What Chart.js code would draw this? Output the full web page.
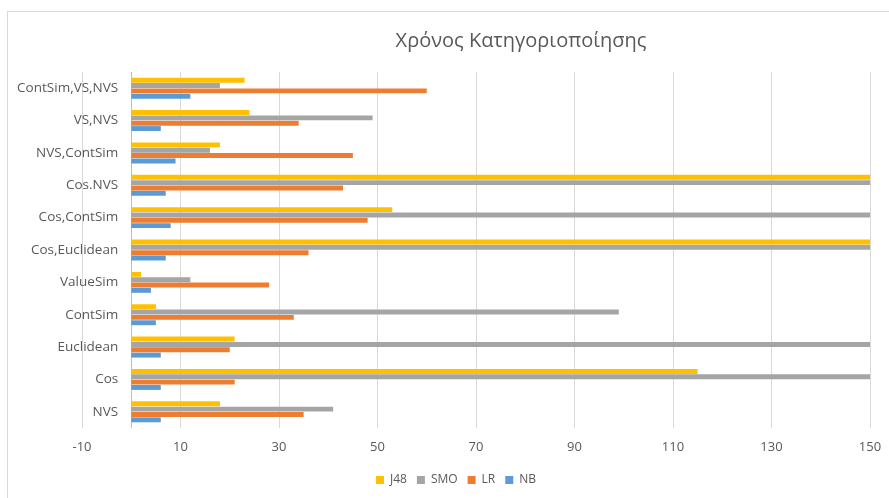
<!DOCTYPE html>
<html>
<head>
<meta charset="utf-8">
<script src="https://cdn.jsdelivr.net/npm/chart.js@4"></script>
<style>
  html, body { margin: 0; padding: 0; background: #fff; }
  #wrap { width: 889px; height: 498px; }
</style>
</head>
<body>
<div id="wrap"><canvas id="myChart" width="889" height="498"></canvas></div>
<script>
// categories listed top to bottom
const labels = ["ContSim,VS,NVS", "VS,NVS", "NVS,ContSim", "Cos.NVS", "Cos,ContSim",
  "Cos,Euclidean", "ValueSim", "ContSim", "Euclidean", "Cos", "NVS"];
const j48 = [23, 24, 18, 150, 53, 150, 2, 5, 21, 115, 18];
const smo = [18, 49, 16, 150, 150, 150, 12, 99, 150, 150, 41];
const lr = [60, 34, 45, 43, 48, 36, 28, 33, 20, 21, 35];
const nb = [12, 6, 9, 7, 8, 7, 4, 5, 6, 6, 6];
const titleText = "Χρόνος Κατηγοριοποίησης";

const grey = "#595959";
const font = "'Open Sans', 'Noto Sans', sans-serif";

// frame, title, zero line, legend nudge
const decor = {
  id: "decor",
  afterLayout(chart) {
    chart.legend.left -= 20;
    chart.legend.right -= 20;
  },
  beforeDraw(chart) {
    const c = chart.ctx;
    c.save();
    c.fillStyle = "#fff";
    c.fillRect(0, 0, chart.width, chart.height);
    c.strokeStyle = "#D9D9D9";
    c.lineWidth = 1;
    c.strokeRect(7.5, 11.5, 950, 600);
    c.fillStyle = grey;
    c.font = "20px " + font;
    c.textAlign = "center";
    c.textBaseline = "middle";
    c.fillText(titleText, 521, 41);
    c.restore();
  },
  beforeDatasetsDraw(chart) {
    const c = chart.ctx;
    const a = chart.chartArea;
    const x0 = Math.round(chart.scales.x.getPixelForValue(0)) + 0.5;
    c.save();
    c.strokeStyle = "#BFBFBF";
    c.lineWidth = 1;
    c.beginPath();
    c.moveTo(x0, a.top);
    c.lineTo(x0, a.bottom);
    c.stroke();
    c.restore();
  }
};

const ctx = document.getElementById("myChart");
new Chart(ctx, {
  type: "bar",
  data: {
    labels: labels,
    datasets: [
      { label: "J48", data: j48, backgroundColor: "#FFC000" },
      { label: "SMO", data: smo, backgroundColor: "#A5A5A5" },
      { label: "LR", data: lr, backgroundColor: "#ED7D31" },
      { label: "NB", data: nb, backgroundColor: "#5B9BD5" },
    ],
  },
  options: {
    indexAxis: "y",
    responsive: false,
    animation: false,
    categoryPercentage: 0.66,
    barPercentage: 0.92,
    layout: { padding: { left: 82, right: 19, top: 72, bottom: 2 } },
    scales: {
      x: {
        min: -10,
        max: 150,
        ticks: { stepSize: 20, color: grey, padding: 11, font: { family: font, size: 13 } },
        grid: { color: "#D9D9D9", drawTicks: false },
        border: { display: false },
        afterFit(scale) {
          scale.height = 36;
          scale.paddingLeft = 0;
          scale.paddingRight = 0;
        },
      },
      y: {
        // labels sit just left of the zero line
        position: { x: -2.65 },
        grid: { display: false, drawTicks: false },
        border: { display: false },
        ticks: { color: grey, font: { family: font, size: 13.5 } },
      },
    },
    plugins: {
      legend: {
        position: "bottom",
        labels: {
          boxWidth: 8,
          boxHeight: 8,
          padding: 10,
          color: grey,
          font: { family: font, size: 12 },
        },
      },
      tooltip: { enabled: false },
    },
  },
  plugins: [decor],
});
</script>
</body>
</html>
